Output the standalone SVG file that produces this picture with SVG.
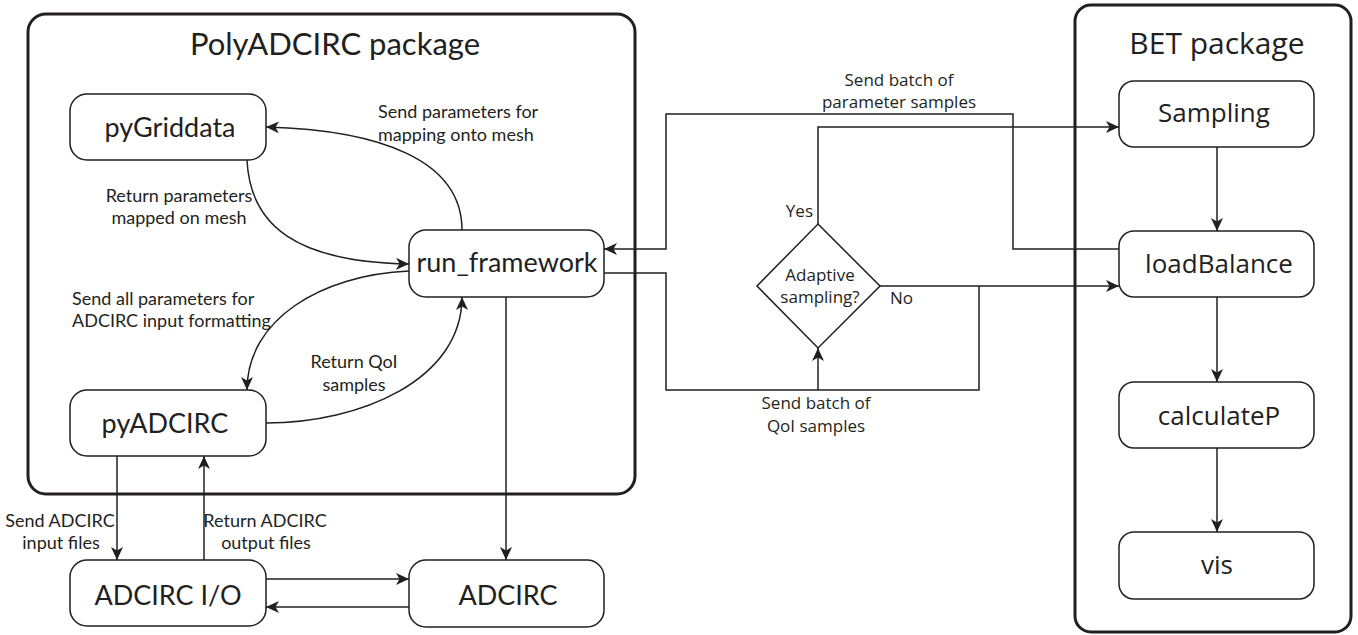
<svg xmlns="http://www.w3.org/2000/svg" width="1358" height="635" viewBox="0 0 1358 635">
<style>
.pkg{fill:none;stroke:#231f20;stroke-width:3}
.box{fill:#fff;stroke:#231f20;stroke-width:1.5}
.dia{fill:#fff;stroke:#231f20;stroke-width:1.5}
.con{fill:none;stroke:#231f20;stroke-width:1.5}
.arr{marker-end:url(#ah)}
.t{font-family:Lato,"Liberation Sans",sans-serif;fill:#231f20;text-anchor:middle}
.node{font-size:27px}
.title{font-size:31px}
.lab{font-size:18px}
.b{font-family:"Open Sans","Liberation Sans",sans-serif;fill:#231f20;text-anchor:middle}
.bnode{font-size:26px}
.btitle{font-size:30px}
.blab{font-size:17px}
</style>
<defs>
<marker id="ah" markerWidth="14" markerHeight="12" refX="13" refY="6" orient="auto" markerUnits="userSpaceOnUse">
<path d="M0,0 L13,6 L0,12 L3.5,6 Z" fill="#231f20"/>
</marker>
</defs>
<rect width="1358" height="635" fill="#fff"/>

<g id="polyadcirc-package">
<rect class="pkg" x="28" y="14" width="607" height="480" rx="18"/>
<text class="t title" x="335" y="55">PolyADCIRC package</text>
</g>
<g id="bet-package">
<rect class="pkg" x="1075" y="5" width="276" height="627" rx="16"/>
<text class="b btitle" x="1217" y="54">BET package</text>
</g>

<g id="connectors">
<path class="con arr" d="M462,230 C462,160 380,130 266,127"/>
<path class="con arr" d="M247,160 C250,225 295,262 409,264"/>
<path class="con arr" d="M409,271 C320,275 247,320 247,390"/>
<path class="con arr" d="M266,423 C360,423 462,380 462,297"/>
<path class="con arr" d="M117,456 V560"/>
<path class="con arr" d="M204,560 V456"/>
<path class="con arr" d="M266,579 H409"/>
<path class="con arr" d="M409,607 H266"/>
<path class="con arr" d="M506,297 V560"/>
<path class="con arr" d="M1119,249 H1013 V114 H666 V249 H604"/>
<path class="con" d="M604,273 H666 V390 H979 V286"/>
<path class="con arr" d="M818,390 V348"/>
<path class="con arr" d="M818,224 V127 H1119"/>
<path class="con arr" d="M880,286 H1119"/>
<path class="con arr" d="M1217,147 V231"/>
<path class="con arr" d="M1217,297 V382"/>
<path class="con arr" d="M1217,448 V532"/>
</g>

<g id="labels">
<text class="t lab" x="378" y="118" text-anchor="start" style="text-anchor:start">Send parameters for</text>
<text class="t lab" x="378" y="141" style="text-anchor:start">mapping onto mesh</text>
<text class="t lab" x="179" y="202">Return parameters</text>
<text class="t lab" x="179" y="224">mapped on mesh</text>
<text class="t lab" x="72" y="305" style="text-anchor:start">Send all parameters for</text>
<text class="t lab" x="72" y="327" style="text-anchor:start">ADCIRC input formatting</text>
<text class="t lab" x="354" y="368">Return QoI</text>
<text class="t lab" x="354" y="391">samples</text>
<text class="t lab" x="60" y="527">Send ADCIRC</text>
<text class="t lab" x="61" y="549">input files</text>
<text class="t lab" x="265" y="527">Return ADCIRC</text>
<text class="t lab" x="266" y="549">output files</text>
<text class="b blab" x="899" y="86">Send batch of</text>
<text class="b blab" x="899" y="108">parameter samples</text>
<text class="b blab" x="813" y="217" style="text-anchor:end">Yes</text>
<text class="b blab" x="890" y="304" style="text-anchor:start">No</text>
<text class="b blab" x="816" y="409">Send batch of</text>
<text class="b blab" x="816" y="432">QoI samples</text>
</g>

<g id="pyGriddata">
<rect class="box" x="70" y="94" width="196" height="66" rx="17"/>
<text class="t node" x="170" y="137">pyGriddata</text>
</g>
<g id="run_framework">
<rect class="box" x="409" y="230" width="195" height="67" rx="17"/>
<text class="t node" x="507" y="272">run_framework</text>
</g>
<g id="pyADCIRC">
<rect class="box" x="70" y="390" width="196" height="66" rx="17"/>
<text class="t node" x="165" y="433">pyADCIRC</text>
</g>
<g id="adcirc-io">
<rect class="box" x="70" y="560" width="196" height="66" rx="17"/>
<text class="t node" x="168" y="605">ADCIRC I/O</text>
</g>
<g id="adcirc">
<rect class="box" x="409" y="560" width="195" height="67" rx="17"/>
<text class="t node" x="508" y="605">ADCIRC</text>
</g>
<g id="adaptive-sampling">
<polygon class="dia" points="818,224 880,286 818,348 757,286"/>
<text class="b blab" x="820" y="281">Adaptive</text>
<text class="b blab" x="820" y="303">sampling?</text>
</g>
<g id="sampling">
<rect class="box" x="1119" y="81" width="195" height="66" rx="15"/>
<text class="b bnode" x="1214" y="122">Sampling</text>
</g>
<g id="loadBalance">
<rect class="box" x="1119" y="231" width="195" height="66" rx="15"/>
<text class="b bnode" x="1219" y="273">loadBalance</text>
</g>
<g id="calculateP">
<rect class="box" x="1119" y="382" width="195" height="66" rx="15"/>
<text class="b bnode" x="1219" y="425">calculateP</text>
</g>
<g id="vis">
<rect class="box" x="1119" y="532" width="195" height="67" rx="15"/>
<text class="b bnode" x="1217" y="574">vis</text>
</g>
</svg>
